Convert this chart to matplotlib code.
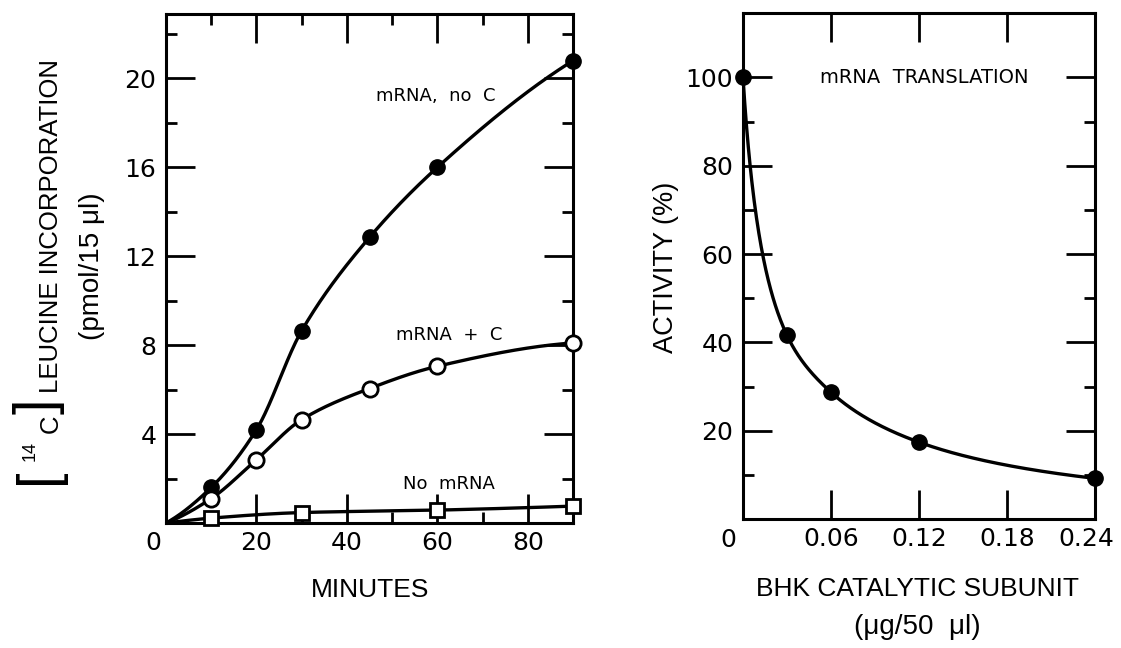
import matplotlib
matplotlib.use("Agg")
import matplotlib.pyplot as plt
import matplotlib.transforms as mtransforms
import numpy as np

# ===== DATA =====
minutes_no_c = [10, 20, 30, 45, 60, 90]
incorp_no_c = [1.6, 4.2, 8.65, 12.85, 16.0, 20.8]

minutes_plus_c = [10, 20, 30, 45, 60, 90]
incorp_plus_c = [1.1, 2.85, 4.65, 6.05, 7.05, 8.1]

minutes_no_mrna = [10, 30, 60, 90]
incorp_no_mrna = [0.22, 0.47, 0.58, 0.76]

subunit_ug = [0.0, 0.03, 0.06, 0.12, 0.24]
activity_pct = [100, 41.6, 28.7, 17.4, 9.2]

left_xticks = [20, 40, 60, 80]
left_yticks = [4, 8, 12, 16, 20]
right_xticks = [0.06, 0.12, 0.18, 0.24]
right_xlabels = ["0.06", "0.12", "0.18", "0.24"]
right_yticks = [20, 40, 60, 80, 100]

W, H = 1121, 648
LABEL_FONT = ["Liberation Sans", "DejaVu Sans"]
TICK_FONT = "DejaVu Sans"


def fx(x):
    return x / W


def fy(y):
    return 1 - y / H


def pchip(x, y, xs):
    # monotone cubic through the points, for the hand-drawn looking curves
    x = np.asarray(x, float)
    y = np.asarray(y, float)
    h = np.diff(x)
    d = np.diff(y) / h
    m = np.zeros_like(y)
    for k in range(1, len(x) - 1):
        if d[k - 1] * d[k] > 0:
            w1 = 2 * h[k] + h[k - 1]
            w2 = h[k] + 2 * h[k - 1]
            m[k] = (w1 + w2) / (w1 / d[k - 1] + w2 / d[k])
    m[0] = ((2 * h[0] + h[1]) * d[0] - h[0] * d[1]) / (h[0] + h[1])
    if np.sign(m[0]) != np.sign(d[0]):
        m[0] = 0
    m[-1] = ((2 * h[-1] + h[-2]) * d[-1] - h[-1] * d[-2]) / (h[-1] + h[-2])
    if np.sign(m[-1]) != np.sign(d[-1]):
        m[-1] = 0
    idx = np.clip(np.searchsorted(x, xs) - 1, 0, len(x) - 2)
    t = (xs - x[idx]) / h[idx]
    h00 = 2 * t**3 - 3 * t**2 + 1
    h10 = t**3 - 2 * t**2 + t
    h01 = -2 * t**3 + 3 * t**2
    h11 = t**3 - t**2
    return h00 * y[idx] + h10 * h[idx] * m[idx] + h01 * y[idx + 1] + h11 * h[idx] * m[idx + 1]


def style_axes(ax):
    for s in ax.spines.values():
        s.set_linewidth(2.2)
    ax.tick_params(which="major", direction="in", length=21, width=2,
                   top=True, right=True, labelsize=18, pad=6)
    ax.tick_params(which="minor", direction="in", length=8, width=2,
                   top=True, right=True)
    ax.tick_params(axis="y", which="major", pad=7)
    for lab in ax.get_xticklabels() + ax.get_yticklabels():
        lab.set_family(TICK_FONT)


fig = plt.figure(figsize=(11.21, 6.48), dpi=100)

# ===== LEFT PANEL =====
ax1 = fig.add_axes([fx(166), fy(523), fx(573) - fx(166), fy(14) - fy(523)])
lw = 2.4

xs = np.linspace(0, 90, 400)
ax1.plot(xs, pchip([0] + minutes_no_c, [0] + incorp_no_c, xs), color="black", lw=lw)
ax1.plot(xs, pchip([0] + minutes_plus_c, [0] + incorp_plus_c, xs), color="black", lw=lw)
ax1.plot(xs, pchip([0] + minutes_no_mrna, [0] + incorp_no_mrna, xs), color="black", lw=lw)

ax1.plot(minutes_no_c, incorp_no_c, "o", ms=11, color="black", clip_on=False, zorder=5)
ax1.plot(minutes_plus_c, incorp_plus_c, "o", ms=11, mfc="white", mec="black", mew=2,
         clip_on=False, zorder=5)
ax1.plot(minutes_no_mrna, incorp_no_mrna, "s", ms=10, mfc="white", mec="black", mew=2,
         clip_on=False, zorder=5)

ax1.set_xlim(0, 90)
ax1.set_ylim(0, 22.9)
ax1.set_xticks(left_xticks)
ax1.set_xticks([10, 30, 50, 70], minor=True)
ax1.set_yticks(left_yticks)
ax1.set_yticks([2, 6, 10, 14, 18, 22], minor=True)
style_axes(ax1)
ax1.annotate("0", xy=(0, 0), xycoords="axes fraction", xytext=(-9.4, -14.4),
             textcoords="offset points", ha="center", va="center",
             fontsize=18, family=TICK_FONT)

ax1.text(59.7, 19.2, "mRNA,  no  C", fontsize=13, ha="center", va="center")
ax1.text(62.7, 8.47, "mRNA  +  C", fontsize=13, ha="center", va="center")
ax1.text(62.5, 1.76, "No  mRNA", fontsize=13, ha="center", va="center")

fig.text(fx(370), fy(590), "MINUTES", fontsize=19, family=LABEL_FONT,
         ha="center", va="center")

# y label of left panel, built from pieces
fig.text(fx(39), fy(476), "[", fontsize=40, family=LABEL_FONT, rotation=90,
         ha="center", va="center")
fig.text(fx(30), fy(451), "14", fontsize=13, family=LABEL_FONT, rotation=90,
         ha="center", va="center")
fig.text(fx(51), fy(424), "C", fontsize=18.5, family=LABEL_FONT, rotation=90,
         ha="center", va="center")
fig.text(fx(39), fy(406), "]", fontsize=40, family=LABEL_FONT, rotation=90,
         ha="center", va="center")
fig.text(fx(51), fy(226), "LEUCINE INCORPORATION", fontsize=18.5, family=LABEL_FONT,
         rotation=90, ha="center", va="center")
fig.text(fx(92), fy(266), "(pmol/15 μl)", fontsize=20, family=LABEL_FONT,
         rotation=90, ha="center", va="center")

# ===== RIGHT PANEL =====
ax2 = fig.add_axes([fx(743), fy(519), fx(1095) - fx(743), fy(13) - fy(519)])

xs2 = np.linspace(0, 0.24, 600)
inv = pchip(subunit_ug, 1.0 / np.asarray(activity_pct), xs2)
ax2.plot(xs2, 1.0 / inv, color="black", lw=lw)
ax2.plot(subunit_ug, activity_pct, "o", ms=11, color="black", clip_on=False, zorder=5)

ax2.set_xlim(0, 0.24)
ax2.set_ylim(0, 114.6)
ax2.set_xticks(right_xticks)
ax2.set_xticklabels(right_xlabels)
ax2.set_yticks(right_yticks)
ax2.set_yticks([10, 30, 50, 70, 90], minor=True)
style_axes(ax2)
# last label sits a little left of the corner, as in the original
last = ax2.get_xticklabels()[-1]
last.set_transform(last.get_transform()
                   + mtransforms.ScaledTranslation(-6 / 72, 0, fig.dpi_scale_trans))
ax2.annotate("0", xy=(0, 0), xycoords="axes fraction", xytext=(-10.8, -15),
             textcoords="offset points", ha="center", va="center",
             fontsize=18, family=TICK_FONT)

ax2.text(0.1234, 100, "mRNA  TRANSLATION", fontsize=14, ha="center", va="center")

fig.text(fx(666), fy(267), "ACTIVITY (%)", fontsize=19.5, family=LABEL_FONT,
         rotation=90, ha="center", va="center")
fig.text(fx(918), fy(589), "BHK CATALYTIC SUBUNIT", fontsize=19, family=LABEL_FONT,
         ha="center", va="center")
fig.text(fx(917), fy(627), "(μg/50  μl)", fontsize=20, family=LABEL_FONT,
         ha="center", va="center")

fig.savefig("out.png", dpi=100)
